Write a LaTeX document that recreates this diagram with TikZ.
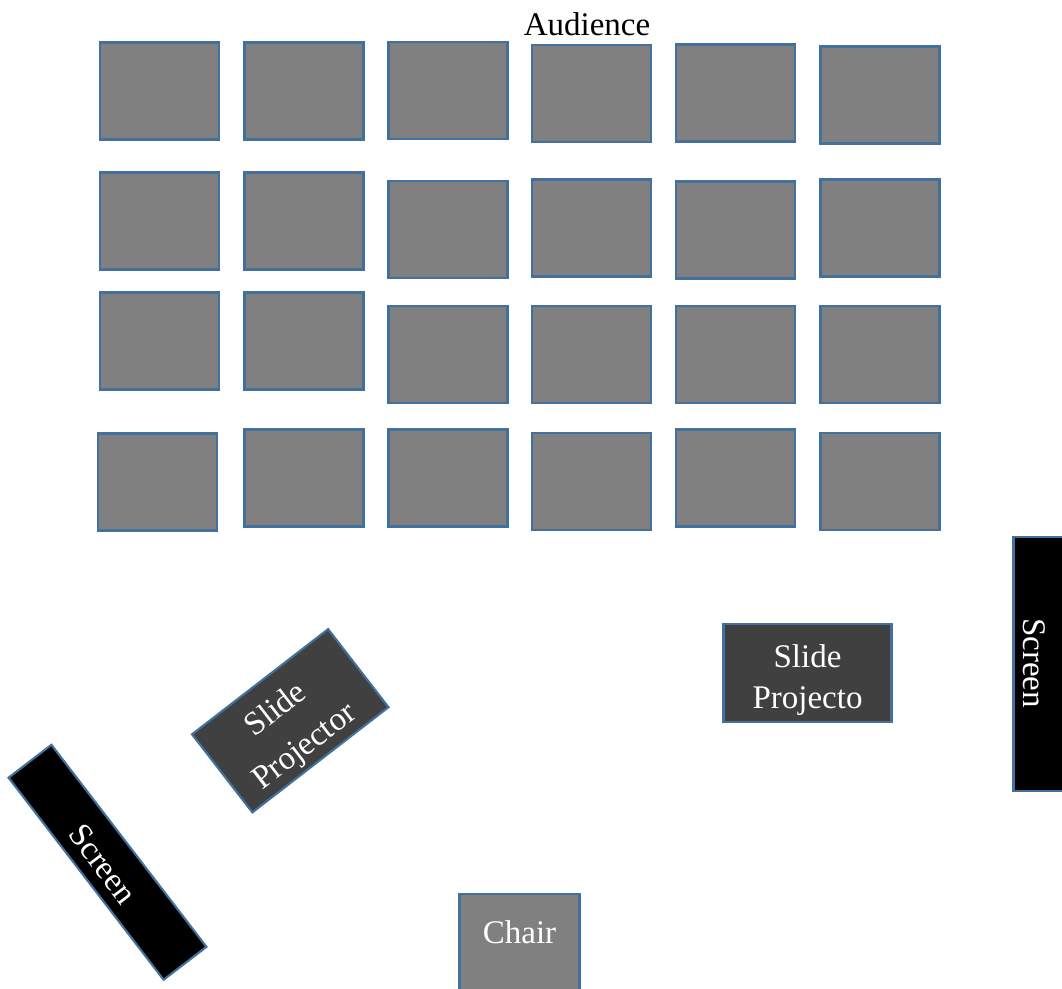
\documentclass[tikz,border=0pt]{standalone}
\usepackage{fontspec}
\setmainfont{Liberation Serif}
\definecolor{seatgray}{HTML}{808080}
\definecolor{projgray}{HTML}{404040}
\definecolor{edgeblue}{HTML}{41719C}
\begin{document}
\begin{tikzpicture}[x=0.75pt,y=-0.75pt,
  every node/.style={font=\fontsize{24.75pt}{31pt}\selectfont},
  seat/.style={draw=edgeblue,line width=1.6pt,fill=seatgray,minimum width=89.25pt,minimum height=72.75pt,inner sep=0pt},
  projbox/.style={draw=edgeblue,line width=1.6pt,fill=projgray,text=white,align=center,inner sep=0pt},
  screenbox/.style={draw=edgeblue,line width=1.6pt,fill=black,text=white,inner sep=0pt},
  chairbox/.style={draw=edgeblue,line width=1.6pt,fill=seatgray,inner sep=0pt},
  lbl/.style={text=white,inner sep=0pt,align=center}]
\useasboundingbox (0,0) rectangle (1062,988);
\begin{scope}
\clip (0,0) rectangle (1062,988);
% Audience label
\node[inner sep=0pt] (aud) at (587,24) {Audience};
% Row 1
\node[seat] (r1c1) at (159.5,91) {};
\node[seat] (r1c2) at (304,91) {};
\node[seat] (r1c3) at (448,90.5) {};
\node[seat] (r1c4) at (591.5,93.5) {};
\node[seat] (r1c5) at (735.5,93) {};
\node[seat] (r1c6) at (880,95) {};
% Row 2
\node[seat] (r2c1) at (159.5,221) {};
\node[seat] (r2c2) at (304,221) {};
\node[seat] (r2c3) at (448,229.5) {};
\node[seat] (r2c4) at (591.5,228) {};
\node[seat] (r2c5) at (735.5,230) {};
\node[seat] (r2c6) at (880,228) {};
% Row 3
\node[seat] (r3c1) at (159.5,341) {};
\node[seat] (r3c2) at (304,341) {};
\node[seat] (r3c3) at (448,354.5) {};
\node[seat] (r3c4) at (591.5,354.5) {};
\node[seat] (r3c5) at (735.5,354.5) {};
\node[seat] (r3c6) at (880,354.5) {};
% Row 4
\node[seat] (r4c1) at (157.5,482) {};
\node[seat] (r4c2) at (304,478) {};
\node[seat] (r4c3) at (448,478) {};
\node[seat] (r4c4) at (591.5,481.5) {};
\node[seat] (r4c5) at (735.5,478) {};
\node[seat] (r4c6) at (880,481.5) {};
% Right slide projector
\node[projbox,minimum width=126pt,minimum height=73.5pt] (projR) at (807.5,673) {};
\node[lbl] (projRt) at (807.5,680) {Slide\\Projecto};
% Rotated slide projector
\node[projbox,minimum width=129pt,minimum height=74pt,rotate=37.7] (projL) at (290.25,720.75) {};
\node[lbl,rotate=37.7,font=\fontsize{24.75pt}{35pt}\selectfont] (projLt) at (291,729) {Slide\\Projector};
% Right screen
\node[screenbox,minimum width=38.25pt,minimum height=190.5pt] (scrR) at (1039,664) {};
\node[lbl,rotate=-90] (scrRt) at (1034,663) {Screen};
% Left screen
\node[screenbox,minimum width=191pt,minimum height=40.5pt,rotate=-52.5] (scrL) at (107.5,862.25) {};
\node[lbl,rotate=-52.5] (scrLt) at (103,864) {Screen};
% Chair
\node[chairbox,minimum width=90pt,minimum height=73.5pt] (chair) at (519.5,943) {};
\node[lbl] (chairt) at (519.5,932) {Chair};
\end{scope}
\end{tikzpicture}
\end{document}
